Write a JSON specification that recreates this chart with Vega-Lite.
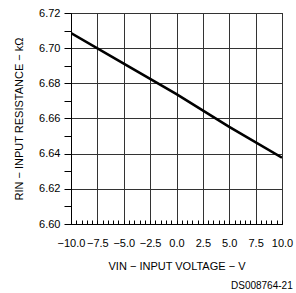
{
  "$schema": "https://vega.github.io/schema/vega-lite/v6.json",
  "width": 211,
  "height": 211,
  "padding": {"left": 13, "top": 7, "right": 4, "bottom": 3},
  "background": "white",
  "data": {"values": [
    {"v": -10, "r": 6.7086},
    {"v": -5, "r": 6.6912},
    {"v": 0, "r": 6.6739},
    {"v": 5, "r": 6.6553},
    {"v": 10, "r": 6.6377}
  ]},
  "mark": {"type": "line", "color": "black", "strokeWidth": 2.6, "clip": true},
  "encoding": {
    "x": {
      "field": "v", "type": "quantitative",
      "scale": {"domain": [-10, 10], "nice": false, "zero": false},
      "axis": {
        "title": "VIN − INPUT VOLTAGE − V",
        "values": [-10,-9.5,-9,-8.5,-8,-7.5,-7,-6.5,-6,-5.5,-5,-4.5,-4,-3.5,-3,-2.5,-2,-1.5,-1,-0.5,0,0.5,1,1.5,2,2.5,3,3.5,4,4.5,5,5.5,6,6.5,7,7.5,8,8.5,9,9.5,10],
        "format": ".1f",
        "labelExpr": "abs((datum.value*2) % 5) < 0.01 ? datum.label : ''",
        "labelOverlap": false,
        "labelFlush": false,
        "grid": true,
        "gridColor": "#333333",
        "gridOpacity": {"condition": {"test": "abs((datum.value*2) % 5) < 0.01", "value": 1}, "value": 0},
        "tickSize": -4,
        "tickColor": "black",
        "domainColor": "black",
        "labelPadding": 17,
        "labelFontSize": 11,
        "labelFont": "Liberation Sans",
        "labelColor": "black",
        "titleFont": "Liberation Sans",
        "titleFontSize": 11,
        "titleFontWeight": "normal",
        "titleColor": "black",
        "titlePadding": 12
      }
    },
    "y": {
      "field": "r", "type": "quantitative",
      "scale": {"domain": [6.6, 6.72], "nice": false, "zero": false},
      "axis": {
        "title": "RIN − INPUT RESISTANCE − kΩ",
        "values": [6.6,6.61,6.62,6.63,6.64,6.65,6.66,6.67,6.68,6.69,6.7,6.71,6.72],
        "format": ".2f",
        "labelExpr": "round(datum.value*100) % 2 == 0 ? datum.label : ''",
        "labelOverlap": false,
        "labelFlush": false,
        "grid": true,
        "gridColor": "#333333",
        "gridOpacity": {"condition": {"test": "round(datum.value*100) % 2 == 0", "value": 1}, "value": 0},
        "tickSize": 7,
        "tickColor": "black",
        "domainColor": "black",
        "labelPadding": 4,
        "labelFontSize": 11,
        "labelFont": "Liberation Sans",
        "labelColor": "black",
        "titleFont": "Liberation Sans",
        "titleFontSize": 11,
        "titleFontWeight": "normal",
        "titleColor": "black",
        "titlePadding": 14
      }
    }
  },
  "title": {
    "text": "DS008764-21",
    "orient": "bottom",
    "anchor": "end",
    "font": "Liberation Sans",
    "fontSize": 10,
    "fontWeight": "normal",
    "color": "black",
    "offset": 10
  },
  "config": {
    "view": {"stroke": "black", "strokeWidth": 1}
  }
}
